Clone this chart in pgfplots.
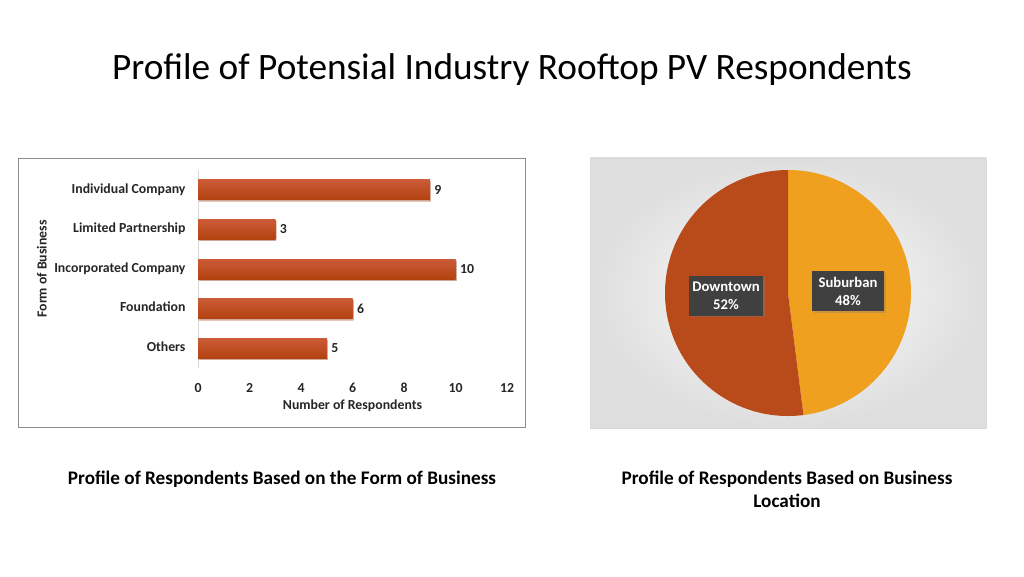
\documentclass[border=0pt]{standalone}
\usepackage{fontspec}
\setmainfont{Carlito}
\usepackage{pgfplots}
\pgfplotsset{compat=1.18}
\usetikzlibrary{shadows}
\definecolor{bartop}{HTML}{CB5B38}
\definecolor{barbot}{HTML}{B3420F}
\definecolor{downtown}{HTML}{B94A19}
\definecolor{suburban}{HTML}{EFA01E}
\definecolor{boxgray}{HTML}{404040}
\definecolor{frame}{HTML}{8C8C8C}
\begin{document}
\begin{tikzpicture}[x=1pt,y=1pt]
\path[use as bounding box, fill=white] (0,0) rectangle (1024,576);
% title
\node[font=\fontsize{37.3}{44}\selectfont] at (512,506) {Profile of Potensial Industry Rooftop PV Respondents};
% frames
\draw[frame, line width=0.8pt] (18.5,148.5) rectangle (525.5,417.5);
\shade[inner color=white, outer color=black!13] (590,148) rectangle (986,418);
\draw[black!15, line width=0.8pt] (590,148) rectangle (986,418);

% bar chart
\begin{axis}[
  at={(198pt,208pt)}, anchor=south west,
  scale only axis, width=309pt, height=198pt,
  xmin=0, xmax=12, ymin=0.5, ymax=5.5,
  xbar, bar width=20pt, bar shift=0pt,
  xtick={0,2,...,12}, ytick={1,...,5},
  yticklabels={Others,Foundation,Incorporated Company,Limited Partnership,Individual Company},
  axis y line*=left, axis x line*=bottom,
  x axis line style={draw=none}, y axis line style={draw=black!15, line width=0.8pt},
  major tick length=0pt,
  /pgf/number format/assume math mode=true,
  typeset ticklabels with strut,
  tick label style={font=\bfseries\fontsize{13.8}{16}\selectfont, text=black!85},
  xticklabel style={yshift=-10pt},
  yticklabel style={xshift=-9pt},
  xlabel={Number of Respondents}, ylabel={Form of Business},
  every axis x label/.style={at={(rel axis cs:0.5,-0.192)}, anchor=center, font=\bfseries\fontsize{13.8}{16}\selectfont, text=black!85},
  every axis y label/.style={at={(rel axis cs:-0.505,0.5)}, rotate=90, anchor=center, font=\bfseries\fontsize{13.8}{16}\selectfont, text=black!85},
  every axis plot/.style={draw=none, top color=bartop, bottom color=barbot,
    drop shadow={opacity=0.3, shadow xshift=1pt, shadow yshift=-1.5pt},
    nodes near coords, nodes near coords align={horizontal},
    every node near coord/.append style={font=\bfseries\fontsize{13.8}{16}\selectfont, text=black!85, xshift=1pt}},
  clip=false,
]
\addplot coordinates {(5,1)};
\addplot coordinates {(6,2)};
\addplot coordinates {(10,3)};
\addplot coordinates {(3,4)};
\addplot coordinates {(9,5)};
\end{axis}

% pie chart
\begin{axis}[
  at={(788pt,283pt)}, anchor=center,
  scale only axis, width=246pt, height=246pt,
  hide axis, xmin=-1, xmax=1, ymin=-1, ymax=1, clip=false,
]
\fill[suburban] (axis cs:0,0) -- (axis cs:0,1) arc[start angle=90, end angle={90-48*3.6}, radius=123pt] -- cycle;
\fill[downtown] (axis cs:0,0) -- (axis cs:{cos(90-48*3.6)},{sin(90-48*3.6)}) arc[start angle={90-48*3.6}, end angle=-270, radius=123pt] -- cycle;
\node[fill=boxgray, text=white, font=\bfseries\fontsize{14.7}{18}\selectfont, align=center,
  minimum width=74pt, minimum height=40pt, inner sep=2pt,
  drop shadow={opacity=0.35, shadow xshift=1.5pt, shadow yshift=-1.5pt}]
  at (axis cs:-0.504,-0.024) {Downtown\\52\%};
\node[fill=boxgray, text=white, font=\bfseries\fontsize{14.7}{18}\selectfont, align=center,
  minimum width=72pt, minimum height=40pt, inner sep=2pt,
  drop shadow={opacity=0.35, shadow xshift=1.5pt, shadow yshift=-1.5pt}]
  at (axis cs:0.488,0.016) {Suburban\\48\%};
\end{axis}

% captions
\node[font=\bfseries\fontsize{19.2}{23}\selectfont] at (282,97) {Profile of Respondents Based on the Form of Business};
\node[font=\bfseries\fontsize{19.2}{23}\selectfont, align=center, anchor=north] at (787,109) {Profile of Respondents Based on Business\\Location};
\end{tikzpicture}
\end{document}
